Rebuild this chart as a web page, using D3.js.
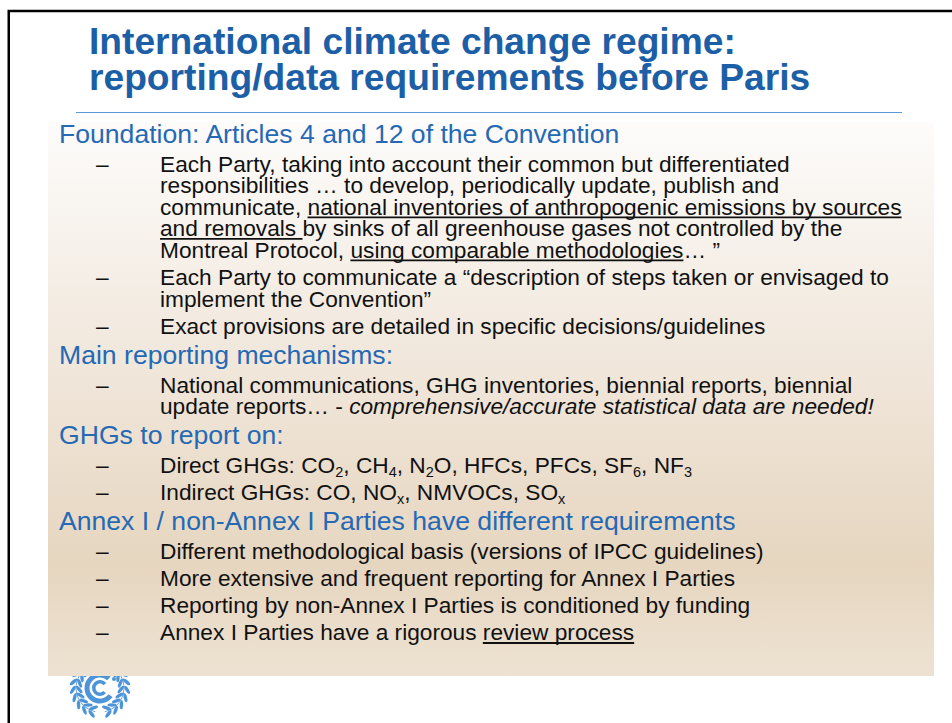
<!DOCTYPE html>
<html>
<head>
<meta charset="utf-8">
<script src="https://cdn.jsdelivr.net/npm/d3@7"></script>
<style>
  body { margin: 0; background: #fff; }
  svg { display: block; }
</style>
</head>
<body>
<svg id="slide"></svg>
<script>
// slide text. markup: _underline_  *italic*  ~subscript~
var titleLines = [
  "International climate change regime:",
  "reporting/data requirements before Paris"
];

var headings = [
  "Foundation: Articles 4 and 12 of the Convention",
  "Main reporting mechanisms:",
  "GHGs to report on:",
  "Annex I / non-Annex I Parties have different requirements"
];

// bullets per heading, each bullet is a list of wrapped lines
var bullets = [
  [
    ["Each Party, taking into account their common but differentiated",
     "responsibilities … to develop, periodically update, publish and",
     "communicate, _national inventories of anthropogenic emissions by sources_",
     "_and removals _by sinks of all greenhouse gases not controlled by the",
     "Montreal Protocol, _using comparable methodologies_… ”"],
    ["Each Party to communicate a “description of steps taken or envisaged to",
     "implement the Convention”"],
    ["Exact provisions are detailed in specific decisions/guidelines"]
  ],
  [
    ["National communications, GHG inventories, biennial reports, biennial",
     "update reports… - *comprehensive/accurate statistical data are needed!*"]
  ],
  [
    ["Direct GHGs: CO~2~, CH~4~, N~2~O, HFCs, PFCs, SF~6~, NF~3~"],
    ["Indirect GHGs: CO, NO~x~, NMVOCs, SO~x~"]
  ],
  [
    ["Different methodological basis (versions of IPCC guidelines)"],
    ["More extensive and frequent reporting for Annex I Parties"],
    ["Reporting by non-Annex I Parties is conditioned by funding"],
    ["Annex I Parties have a rigorous _review process_"]
  ]
];

var width = 952,
    height = 723;

var font = "'Liberation Sans', Arial, Helvetica, sans-serif";
var bodySize = 22.7,
    headSize = 26.6;

var svg = d3.select("#slide")
    .attr("width", width)
    .attr("height", height);

var defs = svg.append("defs");

var grad = defs.append("linearGradient")
    .attr("id", "bg")
    .attr("x1", 0).attr("y1", 0)
    .attr("x2", 0).attr("y2", 1);
grad.selectAll("stop")
    .data([[0, "#fdfcfb"], [0.45, "#f0e6da"], [0.8, "#e6d6c0"], [1, "#ede2d2"]])
    .enter().append("stop")
    .attr("offset", function(d) { return d[0]; })
    .attr("stop-color", function(d) { return d[1]; });

// frame, runs off the right and bottom edges
svg.append("rect")
    .attr("x", 8.75).attr("y", 11)
    .attr("width", 1000).attr("height", 1000)
    .attr("fill", "none")
    .attr("stroke", "#000")
    .attr("stroke-width", 2.5);

// logo (sits partly under the content box)
drawLogo(svg.append("g").attr("transform", "translate(100,688)"));

svg.append("rect")
    .attr("x", 48).attr("y", 122)
    .attr("width", 886).attr("height", 554)
    .attr("fill", "url(#bg)");

// title
svg.append("g").selectAll("text")
    .data(titleLines)
    .enter().append("text")
    .attr("x", 89)
    .attr("y", function(d, i) { return 54 + i * 36; })
    .attr("font-family", font)
    .attr("font-weight", "bold")
    .attr("font-size", 37.2)
    .attr("fill", "#1d5fa6")
    .text(function(d) { return d; });

svg.append("line")
    .attr("x1", 76).attr("x2", 902)
    .attr("y1", 112.5).attr("y2", 112.5)
    .attr("stroke", "#5a9ad8")
    .attr("stroke-width", 1.2);

// build rows with running baseline
var rows = [];
var y = 0, prev = null;
headings.forEach(function(h, hi) {
  y = prev === null ? 143 : y + 30;
  rows.push({ kind: "heading", text: h, y: y });
  prev = "heading";
  bullets[hi].forEach(function(b) {
    b.forEach(function(line, li) {
      if (li > 0) y += 21.5;
      else y += (prev === "heading" ? 28.8 : 27.2);
      rows.push({ kind: li === 0 ? "first" : "cont", text: line, y: y });
      prev = "bullet";
    });
  });
});

function parse(line) {
  var segs = [], cur = "", ul = false, it = false, sub = false;
  for (var i = 0; i < line.length; i++) {
    var ch = line[i];
    if (ch === "_" || ch === "*" || ch === "~") {
      if (cur) segs.push({ t: cur, ul: ul, it: it, sub: sub });
      cur = "";
      if (ch === "_") ul = !ul;
      if (ch === "*") it = !it;
      if (ch === "~") sub = !sub;
    } else {
      cur += ch;
    }
  }
  if (cur) segs.push({ t: cur, ul: ul, it: it, sub: sub });
  return segs;
}

var body = svg.append("g");

rows.forEach(function(r) {
  if (r.kind === "heading") {
    body.append("text")
        .attr("x", 59).attr("y", r.y)
        .attr("font-family", font)
        .attr("font-size", headSize)
        .attr("fill", "#2569b5")
        .text(r.text);
    return;
  }
  if (r.kind === "first") {
    body.append("text")
        .attr("x", 96).attr("y", r.y)
        .attr("font-family", font)
        .attr("font-size", bodySize)
        .attr("fill", "#111")
        .text("–");
  }
  var t = body.append("text")
      .attr("x", 160).attr("y", r.y)
      .attr("font-family", font)
      .attr("font-size", bodySize)
      .attr("fill", "#111");
  var segs = parse(r.text), shifted = false, offset = 0;
  segs.forEach(function(s) {
    var ts = t.append("tspan").text(s.t);
    if (s.it) ts.attr("font-style", "italic");
    if (s.sub) { ts.attr("font-size", 14.5).attr("dy", 4); shifted = true; }
    else if (shifted) { ts.attr("dy", -4); shifted = false; }
    s.node = ts.node();
    s.offset = offset;
    offset += s.t.length;
  });
  // underlines drawn by hand so they match the slide's weight
  segs.filter(function(s) { return s.ul; }).forEach(function(s) {
    var x0 = t.node().getStartPositionOfChar(s.offset).x;
    var w = s.node.getComputedTextLength();
    body.append("line")
        .attr("x1", x0).attr("x2", x0 + w)
        .attr("y1", r.y + 2.6).attr("y2", r.y + 2.6)
        .attr("stroke", "#111")
        .attr("stroke-width", 1.8);
  });
});

function drawLogo(g) {
  var blue = "#4d94d8";
  var arc = d3.arc();
  // outer and inner C, open to the right
  g.append("path")
      .attr("d", arc({ innerRadius: 10.5, outerRadius: 15.5, startAngle: 2.2, endAngle: 2 * Math.PI + 0.75 }))
      .attr("fill", blue);
  g.append("path")
      .attr("d", arc({ innerRadius: 4.5, outerRadius: 8, startAngle: 2.3, endAngle: 2 * Math.PI + 0.9 }))
      .attr("fill", blue);
  g.append("circle").attr("cx", 14).attr("cy", -9).attr("r", 2).attr("fill", blue);
  // laurel branches rising from the bottom on both sides
  var steps = d3.range(0, 8);
  var R = 24;
  [-1, 1].forEach(function(side) {
    var branch = g.append("g");
    branch.append("path")
        .attr("d", d3.arc()({ innerRadius: R - 0.4, outerRadius: R + 0.4,
          startAngle: side > 0 ? Math.PI - 0.2 : -Math.PI + 0.2,
          endAngle: side > 0 ? 0.6 : -0.6 }))
        .attr("fill", blue);
    [-1, 1].forEach(function(row) {
      branch.selectAll(null)
          .data(steps)
          .enter().append("ellipse")
          .attr("rx", 4.6).attr("ry", 1.7)
          .attr("fill", blue)
          .attr("transform", function(d) {
            var th = (18 + d * 17) * Math.PI / 180;   // from bottom, upward
            var rr = R + row * 3.2;
            var px = side * rr * Math.sin(th), py = rr * Math.cos(th);
            var tang = Math.atan2(-Math.sin(th), side * Math.cos(th)) * 180 / Math.PI;
            return "translate(" + px + "," + py + ") rotate(" + (tang - side * row * 35) + ")";
          });
    });
  });
}
</script>
</body>
</html>
